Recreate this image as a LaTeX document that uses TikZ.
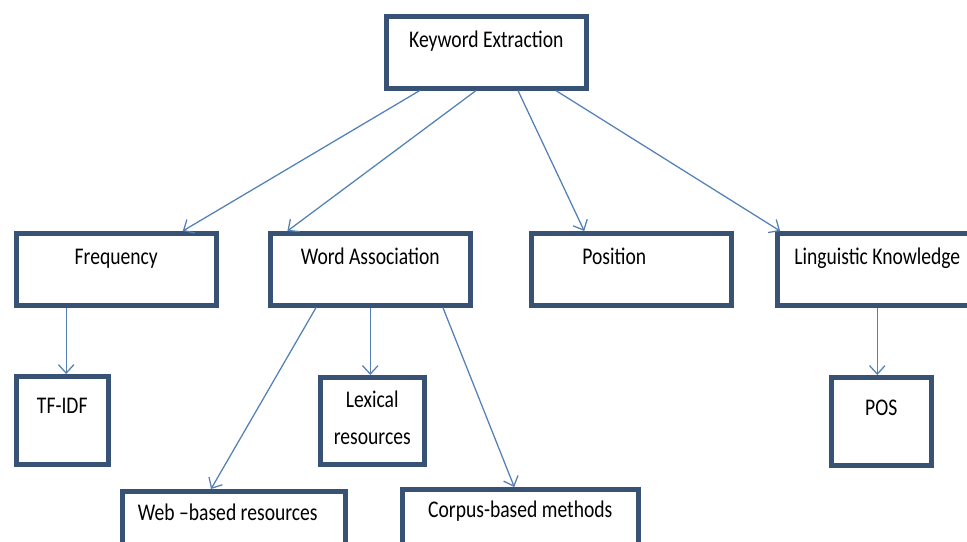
\documentclass[tikz,border=0pt]{standalone}
\usepackage{fontspec}
\setmainfont[FakeStretch=0.82]{Carlito}
\usetikzlibrary{calc,arrows.meta}
\definecolor{boxc}{RGB}{56,82,118}
\definecolor{arrc}{RGB}{84,128,184}
\tikzset{
  kbox/.style={draw=boxc, line width=3.2pt, inner sep=0pt, anchor=north west,
    fill=white, font=\fontsize{17}{25}\selectfont},
  arr/.style={draw=arrc, line width=0.9pt, -{Straight Barb[length=6pt,width=11pt]}}
}
\begin{document}
\begin{tikzpicture}[x=0.025cm,y=-0.025cm]
\useasboundingbox (0,0) rectangle (967,541);
\clip (0,0) rectangle (967,541);

% Root
\node[kbox, minimum width=5cm, text height=0.775cm, text depth=1.025cm] (kw) at (384,14) {Keyword Extraction};

% First level
\node[kbox, minimum width=5cm, text height=0.775cm, text depth=1.025cm] (freq) at (14,231) {Frequency};
\node[kbox, minimum width=5cm, text height=0.775cm, text depth=1.025cm] (wa) at (268,231) {Word Association};
\node[kbox, minimum width=5cm, text height=0.775cm, text depth=1.025cm] (pos) at (529,231) {Position\kern0.85cm};
\node[kbox, minimum width=5cm, text height=0.775cm, text depth=1.025cm] (ling) at (775,231) {Linguistic Knowledge};

% Second level
\node[kbox, minimum width=2.3cm, text height=0.925cm, text depth=1.275cm] (tfidf) at (14,374) {TF-IDF};
\node[kbox, minimum width=2.6cm, text height=1.675cm, text depth=0.5cm, align=center] (lex) at (318,375) {Lexical\\[0.05cm]resources};
\node[kbox, minimum width=2.5cm, text height=0.95cm, text depth=1.25cm] (posn) at (829,375) {POS};
\node[kbox, minimum width=5.575cm, text height=0.725cm, text depth=2cm] (web) at (120,489) {Web –based resources\kern0.3cm};
\node[kbox, minimum width=5.9cm, text height=0.7cm, text depth=2cm] (corpus) at (400,487) {Corpus-based methods};

% Root to first level
\draw[arr] ($(kw.south west)!0.175!(kw.south east)$) -- ($(freq.north west)!0.825!(freq.north east)$);
\draw[arr] ($(kw.south west)!0.45!(kw.south east)$) -- ($(wa.north west)!0.095!(wa.north east)$);
\draw[arr] ($(kw.south west)!0.655!(kw.south east)$) -- ($(pos.north west)!0.27!(pos.north east)$);
\draw[arr] ($(kw.south west)!0.84!(kw.south east)$) -- ($(ling.north west)!0.025!(ling.north east)$);

% First to second level
\draw[arr] ($(freq.south west)!0.255!(freq.south east)$) coordinate (f1) -- (f1 |- tfidf.north);
\draw[arr] ($(wa.south west)!0.235!(wa.south east)$) -- ($(web.north west)!0.4!(web.north east)$);
\draw[arr] (wa.south) -- (wa.south |- lex.north);
\draw[arr] ($(wa.south west)!0.855!(wa.south east)$) -- ($(corpus.north west)!0.475!(corpus.north east)$);
\draw[arr] (ling.south) -- (ling.south |- posn.north);

\end{tikzpicture}
\end{document}
